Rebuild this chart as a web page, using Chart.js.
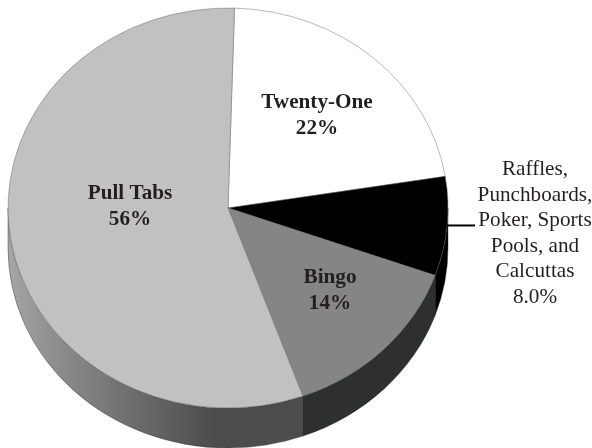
<!DOCTYPE html>
<html><head><meta charset="utf-8">
<style>html,body{margin:0;padding:0;background:#fff}canvas{display:block}</style>
<script src="https://cdn.jsdelivr.net/npm/chart.js@4"></script>
</head><body><canvas id="c" width="592" height="448"></canvas>
<script>
const categories = ["Twenty-One", "Raffles, Punchboards, Poker, Sports Pools, and Calcuttas", "Bingo", "Pull Tabs"];
const shares = [22, 8, 14, 56];
const sliceColors = ["#ffffff", "#000000", "#858585", "#c1c1c1"];
const sideColors = [null, "#000000", "#2e302f", "pull"];
const insideLabels = [["Twenty-One", "22%"], null, ["Bingo", "14%"], ["Pull Tabs", "56%"]];
const outsideLabel = ["Raffles,", "Punchboards,", "Poker, Sports", "Pools, and", "Calcuttas", "8.0%"];

const CX = 228, CY = 208, RX = 220, RY = 200, DEPTH = 40;
const insideAnchors = [[317, 108], null, [330, 283], [130, 199]];

const tiltPlugin = {
  id: 'tilt',
  beforeDatasetsDraw(chart) {
    const ctx = chart.ctx, arcs = chart.getDatasetMeta(0).data, a0 = arcs[0];
    const R = a0.outerRadius, cx = a0.x, cy = a0.y;
    ctx.save();
    ctx.translate(CX, CY);
    ctx.scale(RX / R, RY / R);
    ctx.translate(-cx, -cy);
    const d = DEPTH * R / RY;
    arcs.forEach((arc, i) => {
      if (!sideColors[i]) return;
      const two = Math.PI * 2;
      let s = arc.startAngle, e = arc.endAngle;
      const ranges = [[s, e], [s - two, e - two], [s + two, e + two]];
      ranges.forEach(([p, q]) => {
        const from = Math.max(p, 0), to = Math.min(q, Math.PI);
        if (to <= from) return;
        ctx.beginPath();
        ctx.arc(cx, cy, R, from, to);
        ctx.lineTo(cx + R * Math.cos(to), cy + R * Math.sin(to) + d);
        ctx.arc(cx, cy + d, R, to, from, true);
        ctx.closePath();
        if (sideColors[i] === 'pull') {
          const g = ctx.createLinearGradient(cx - R, 0, cx + R, 0);
          g.addColorStop(0, '#a6a6a6');
          g.addColorStop(0.1, '#8f8f8f');
          g.addColorStop(0.3, '#6a6a6a');
          g.addColorStop(0.47, '#4c4c4c');
          g.addColorStop(1, '#4c4c4c');
          ctx.fillStyle = g;
        } else ctx.fillStyle = sideColors[i];
        ctx.fill();
        ctx.strokeStyle = '#222';
        ctx.lineWidth = 0.4;
        ctx.stroke();
      });
    });
  },
  afterDatasetsDraw(chart) {
    const ctx = chart.ctx, arcs = chart.getDatasetMeta(0).data;
    ctx.restore();
    ctx.save();
    ctx.textAlign = 'center';
    ctx.textBaseline = 'alphabetic';
    ctx.fillStyle = '#231f20';
    ctx.font = 'bold 21.2px "Liberation Serif"';
    insideLabels.forEach((lines, i) => {
      if (!lines) return;
      const [x, y] = insideAnchors[i];
      lines.forEach((t, k) => ctx.fillText(t, x, y + k * 26));
    });
    ctx.font = '21.2px "Liberation Serif"';
    outsideLabel.forEach((t, k) => ctx.fillText(t, 535, 175 + k * 25.6));
    const mid = (arcs[1].startAngle + arcs[1].endAngle) / 2;
    const lx = CX + RX * Math.cos(mid), ly = CY + RY * Math.sin(mid) - 1;
    ctx.strokeStyle = '#000';
    ctx.lineWidth = 2;
    ctx.beginPath();
    ctx.moveTo(lx, ly);
    ctx.lineTo(475, ly);
    ctx.stroke();
    ctx.restore();
  }
};

new Chart(document.getElementById('c'), {
  type: 'pie',
  data: {
    labels: categories,
    datasets: [{
      data: shares,
      backgroundColor: sliceColors,
      borderColor: '#666',
      borderWidth: 0.5,
      clip: false
    }]
  },
  options: {
    responsive: false,
    animation: false,
    rotation: 1.7,
    layout: { padding: 0 },
    plugins: { legend: { display: false }, tooltip: { enabled: false } }
  },
  plugins: [tiltPlugin]
});
</script></body></html>
